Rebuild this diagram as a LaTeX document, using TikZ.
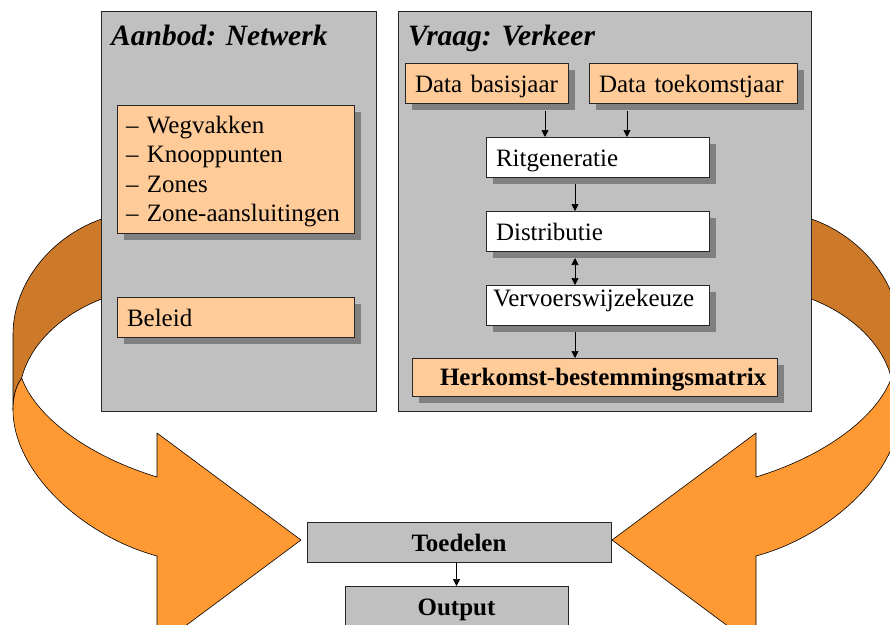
\documentclass[tikz,border=0pt]{standalone}
\usepackage{fontspec}
\setmainfont{Liberation Serif}
\usetikzlibrary{arrows.meta,shadows,calc}

\definecolor{panelgray}{RGB}{192,192,192}
\definecolor{shadowgray}{RGB}{128,128,128}
\definecolor{peach}{RGB}{255,204,153}
\definecolor{ribbonback}{RGB}{204,122,41}
\definecolor{ribbonfront}{RGB}{255,153,51}

\tikzset{
  panel/.style={draw=black!85, line width=0.8pt, fill=panelgray,
    inner sep=0pt, outer sep=0pt},
  paneltitle/.style={anchor=base west, inner sep=0pt,
    font=\fontsize{29.5}{34}\selectfont\bfseries\itshape},
  boxbase/.style={draw=black!85, line width=0.7pt, inner xsep=10pt, inner ysep=0pt,
    outer sep=0pt, minimum height=40pt, align=left,
    text height=20pt, text depth=2pt,
    font=\fontsize{25}{29.5}\selectfont},
  castshadow/.style={drop shadow={shadow xshift=7pt, shadow yshift=-7pt,
    fill=shadowgray, opacity=1}},
  peachbox/.style={boxbase, fill=peach, castshadow},
  whitebox/.style={boxbase, fill=white, castshadow},
  graybox/.style={boxbase, fill=panelgray, align=center,
    font=\fontsize{25}{29.5}\selectfont\bfseries},
  arr/.style={line width=0.7pt, -{Triangle[length=7pt,width=7pt]}},
  arrboth/.style={line width=0.7pt, {Triangle[length=7pt,width=7pt]}-{Triangle[length=7pt,width=7pt]}},
  ribbon/.style={draw=black, line width=0.6pt, line join=round},
}

\begin{document}
\begin{tikzpicture}[x=1pt, y=-1pt]
\useasboundingbox (0,0) rectangle (890,624);
\begin{scope}
\clip (0,0) rectangle (890,624);
\fill[white] (0,0) rectangle (890,624);

% twisted feedback ribbons, the right one mirrored about x = 456.5
\foreach \s/\dx in {1/0, -1/913} {
  \begin{scope}[shift={(\dx,0)}, xscale=\s]
    % back face
    \filldraw[ribbon, fill=ribbonback]
      (147,198) -- (101.7,219) .. controls (55,235) and (13,280) .. (13,335)
      -- (13,410) .. controls (13,398) and (15,388) .. (21.7,378)
      .. controls (30,345) and (60,315) .. (101.7,299) -- (140,284) -- cycle;
    % front face with arrow head
    \filldraw[ribbon, fill=ribbonfront]
      (21.7,378) .. controls (35,415) and (85,455) .. (157,477)
      -- (157,433) -- (301,540) -- (157,647) -- (157,556)
      .. controls (80,535) and (13,470) .. (13,410)
      .. controls (13,398) and (15,388) .. (21.7,378) -- cycle;
  \end{scope}
}

% supply panel
\node[panel, minimum width=275pt, minimum height=400pt] (panelL) at (238.5,211) {};
\node[paneltitle] (titleL) at ($(panelL.north west)+(10,34)$) {Aanbod: Netwerk};
\node[peachbox, text width=219pt, text height=22pt, text depth=94pt, minimum height=128pt,
  inner xsep=9pt] (net) at (235.5,169)
  {– Wegvakken\\– Knooppunten\\– Zones\\– Zone-aansluitingen};
\node[peachbox, text width=217pt] (bel) at (235.5,317) {Beleid};

% demand panel
\node[panel, minimum width=413pt, minimum height=400pt] (panelR) at (604.5,211) {};
\node[paneltitle] (titleR) at ($(panelR.north west)+(10,34)$) {Vraag: Verkeer};
\node[peachbox, text width=143pt] (dbj) at (486.5,83) {Data basisjaar};
\node[peachbox, text width=188pt] (dtj) at (693,83) {Data toekomstjaar};
\node[whitebox, text width=203pt] (rit) at (597.5,157) {Ritgeneratie};
\node[whitebox, text width=203pt] (dis) at (597.5,231) {Distributie};
\node[whitebox, text width=209pt, inner xsep=7pt, text height=5pt] (ver) at (597.5,305) {Vervoerswijzekeuze};
\node[peachbox, text width=365pt, inner xsep=0pt, minimum height=38pt, text height=18pt,
  font=\fontsize{25}{29.5}\selectfont\bfseries] (hbm) at (594.5,377)
  {\hspace*{28pt}\mbox{Herkomst-bestemmingsmatrix}};

% assignment and output
\node[graybox, text width=284pt] (toe) at (459,542) {Toedelen};
\node[graybox, text width=203pt] (out) at (456.5,606) {Output};

% flow within the demand model
\coordinate (a1) at ($(dbj.south)+(58.5,8)$);
\draw[arr] (a1) -- (a1 |- rit.north);
\coordinate (a2) at ($(dtj.south)+(-66,8)$);
\draw[arr] (a2) -- (a2 |- rit.north);
\coordinate (a3) at ($(rit.south)+(-22.5,7)$);
\draw[arr] (a3) -- (a3 |- dis.north);
\coordinate (a4) at ($(dis.south)+(-22.5,7)$);
\draw[arrboth] (a4) -- (a4 |- ver.north);
\coordinate (a5) at ($(ver.south)+(-22.5,7)$);
\draw[arr] (a5) -- (a5 |- hbm.north);
\draw[arr] (toe.south -| out.north) -- (out.north);
\end{scope}
\end{tikzpicture}
\end{document}
